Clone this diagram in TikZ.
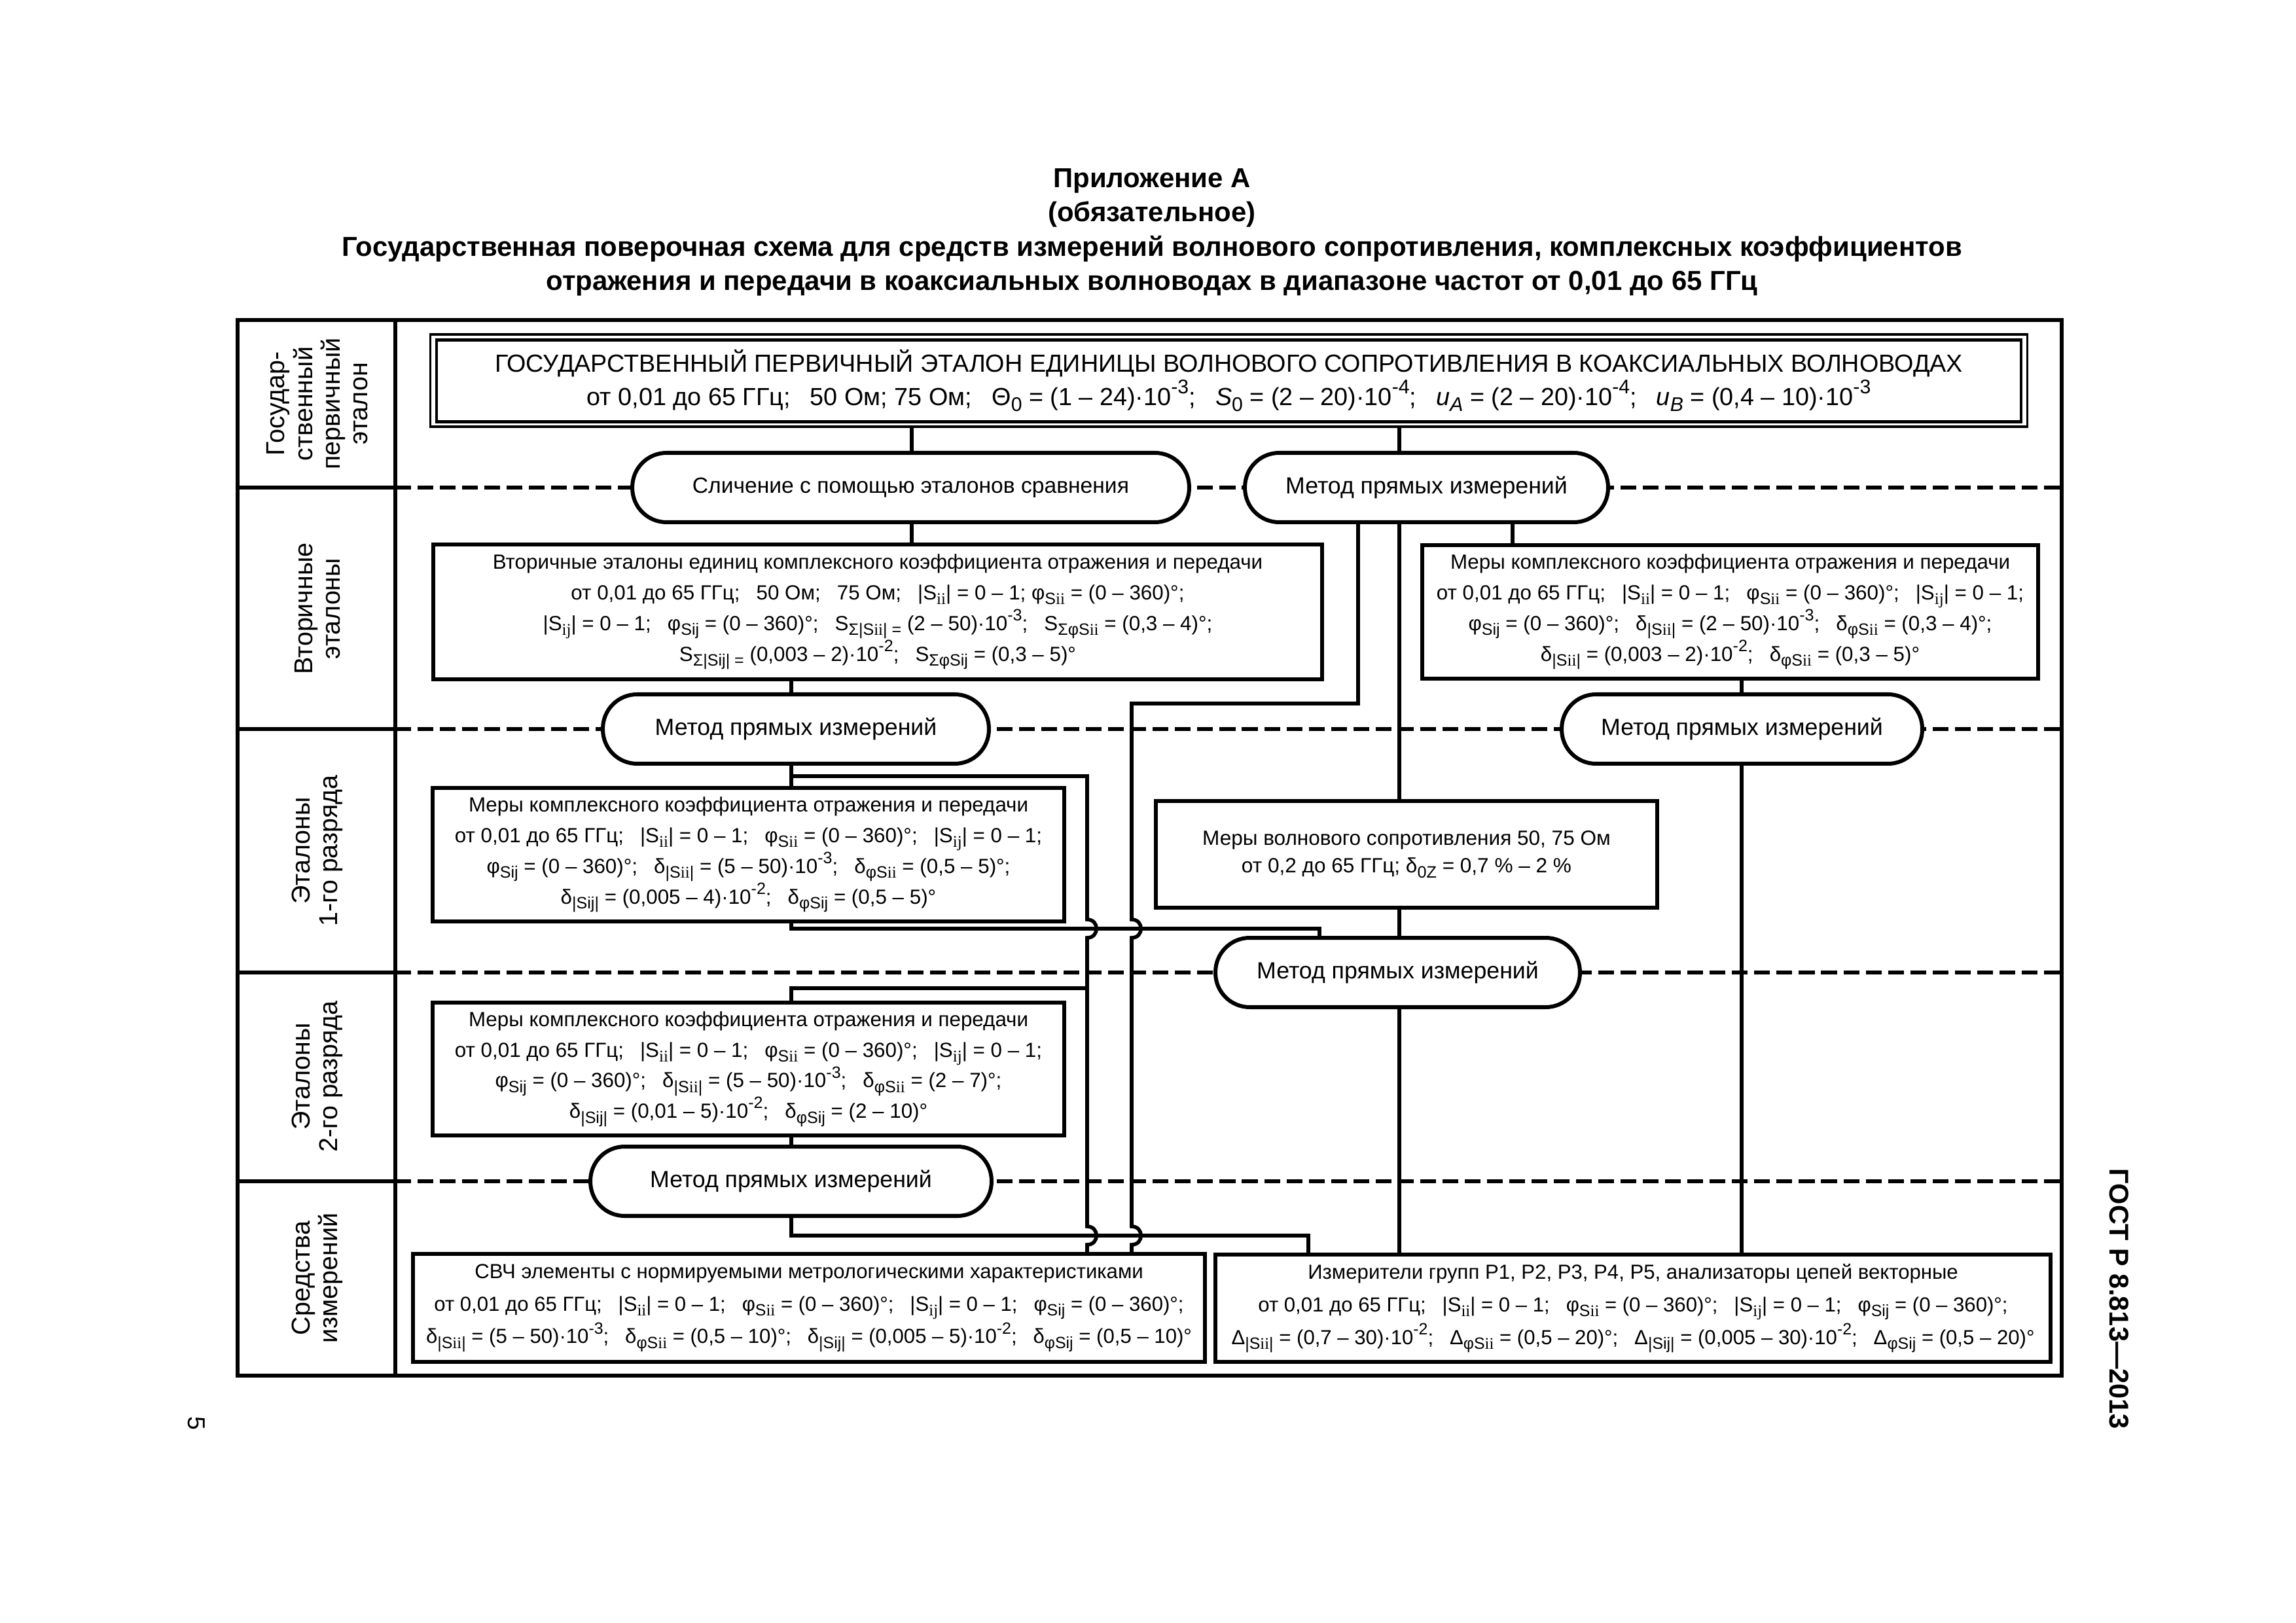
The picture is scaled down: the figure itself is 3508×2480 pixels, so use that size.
\documentclass[tikz,border=0pt]{standalone}
\usepackage{fontspec}
\usepackage{graphicx}
\setmainfont{Liberation Sans}
\newfontfamily\serf{Liberation Serif}
\newdimen\pxu \pxu=0.24086pt
\newcommand{\spc}{\hspace{0.8em}}
\newcommand{\lsub}[1]{\raisebox{-0.45ex}{\scalebox{0.8}{#1}}}
\newcommand{\lsup}[1]{\raisebox{0.9ex}{\scalebox{0.8}{#1}}}
\newcommand{\tenm}[1]{·10\lsup{-#1}}
\newcommand{\Sii}{S\lsub{\serf ii}}
\newcommand{\Sij}{S\lsub{\serf ij}}
\newcommand{\pSii}{φ\lsub{S{\serf ii}}}
\newcommand{\pSij}{φ\lsub{Sij}}
\newcommand{\dSii}{δ\lsub{|S{\serf ii}|}}
\newcommand{\dSij}{δ\lsub{|Sij|}}
\newcommand{\dpSii}{δ\lsub{φS{\serf ii}}}
\newcommand{\dpSij}{δ\lsub{φSij}}
\newcommand{\DSii}{Δ\lsub{|S{\serf ii}|}}
\newcommand{\DSij}{Δ\lsub{|Sij|}}
\newcommand{\DpSii}{Δ\lsub{φS{\serf ii}}}
\newcommand{\DpSij}{Δ\lsub{φSij}}
\tikzset{
  frame/.style={line width=1.6pt},
  rowsep/.style={line width=1.4pt, dash pattern=on 5.8pt off 2.4pt},
  box/.style={draw, line width=1.45pt, fill=white, align=center, inner sep=0pt,
    font=\fontsize{7.55}{11.3}\selectfont},
  stad/.style={draw, line width=1.45pt, fill=white, align=center, inner sep=0pt,
    rounded corners=12.6pt, minimum height=106*\pxu,
    font=\fontsize{8.6}{10}\selectfont},
  conn/.style={line width=1.35pt},
  rowlab/.style={rotate=90, align=center, font=\fontsize{9.5}{10.2}\selectfont}
}
\begin{document}
\begin{tikzpicture}[x=0.0846636mm, y=-0.0846636mm]
\useasboundingbox (0,0) rectangle (3508,2480);
% title
\node[align=center, font=\fontsize{10.1}{12.6}\selectfont\bfseries] (title) at (1760,355)
  {Приложение А\\(обязательное)\\Государственная поверочная схема для средств измерений волнового сопротивления, комплексных коэффициентов\\отражения и передачи в коаксиальных волноводах в диапазоне частот от 0,01 до 65 ГГц};
\node[rotate=-90, font=\fontsize{10}{12}\selectfont\bfseries] (gost) at (3238,1985) {ГОСТ Р 8.813—2013};
\node[rotate=-90, font=\fontsize{9}{11}\selectfont] (pnum) at (300,2175) {5};
% frame
\draw[frame] (363,489) rectangle (3150,2102);
\draw[frame] (604,489) -- (604,2102);
\foreach \yy in {745,1114,1486,1805} {
  \draw[frame] (363,\yy) -- (604,\yy);
  \draw[rowsep] (604,\yy) -- (3150,\yy);
}
% row labels
\node[rowlab] (l1) at (485,617) {Государ-\\ственный\\первичный\\эталон};
\node[rowlab] (l2) at (485,930) {Вторичные\\эталоны};
\node[rowlab] (l3) at (485,1300) {Эталоны\\1-го разряда};
\node[rowlab] (l4) at (485,1645) {Эталоны\\2-го разряда};
\node[rowlab] (l5) at (485,1953) {Средства\\измерений};
% main box
\node[draw, line width=0.75pt, fill=white, align=center, inner sep=0pt,
  minimum width=2441*\pxu, minimum height=141*\pxu,
  font=\fontsize{9.1}{10.6}\selectfont] (main) at (1877.5,581.5)
  {ГОСУДАРСТВЕННЫЙ ПЕРВИЧНЫЙ ЭТАЛОН ЕДИНИЦЫ ВОЛНОВОГО СОПРОТИВЛЕНИЯ В КОАКСИАЛЬНЫХ ВОЛНОВОДАХ\\
   от 0,01 до 65 ГГц;\spc 50 Ом; 75 Ом;\spc Θ\lsub{0} = (1 – 24)\tenm{3};\spc \textit{S}\lsub{0} = (2 – 20)\tenm{4};\spc \textit{u}\lsub{\textit{A}} = (2 – 20)\tenm{4};\spc \textit{u}\lsub{\textit{B}} = (0,4 – 10)\tenm{3}};
\draw[line width=1pt] ([shift={(11,10)}]main.north west) rectangle ([shift={(-11,-9)}]main.south east);
% stadiums
\node[stad, minimum width=851*\pxu, font=\fontsize{8.1}{10}\selectfont] (st1) at (1391.5,745) {Сличение с помощью эталонов сравнения};
\node[stad, minimum width=555*\pxu] (st2) at (2179.5,745) {Метод прямых измерений};
\node[stad, minimum width=590*\pxu] (st3l) at (1216,1114) {Метод прямых измерений};
\node[stad, minimum width=551*\pxu] (st3r) at (2661.5,1114) {Метод прямых измерений};
\node[stad, minimum width=557*\pxu] (st4) at (2135.5,1486) {Метод прямых измерений};
\node[stad, minimum width=613*\pxu] (st5) at (1208.5,1805) {Метод прямых измерений};
% boxes
\node[box, minimum width=1358*\pxu, minimum height=206*\pxu] (sec) at (1341,935)
 {Вторичные эталоны единиц комплексного коэффициента отражения и передачи\\
  от 0,01 до 65 ГГц;\spc 50 Ом;\spc 75 Ом;\spc |\Sii| = 0 – 1; \pSii{} = (0 – 360)°;\\
  |\Sij| = 0 – 1;\spc \pSij{} = (0 – 360)°;\spc S\lsub{Σ|S{\serf ii}| =} (2 – 50)\tenm{3};\spc S\lsub{ΣφS{\serf ii}} = (0,3 – 4)°;\\
  S\lsub{Σ|Sij| =} (0,003 – 2)\tenm{2};\spc S\lsub{ΣφSij} = (0,3 – 5)°};
\node[box, minimum width=941*\pxu, minimum height=204*\pxu] (rmer) at (2643.5,935)
 {Меры комплексного коэффициента отражения и передачи\\
  от 0,01 до 65 ГГц;\spc |\Sii| = 0 – 1;\spc \pSii{} = (0 – 360)°;\spc |\Sij| = 0 – 1;\\
  \pSij{} = (0 – 360)°;\spc \dSii{} = (2 – 50)\tenm{3};\spc \dpSii{} = (0,3 – 4)°;\\
  \dSii{} = (0,003 – 2)\tenm{2};\spc \dpSii{} = (0,3 – 5)°};
\node[box, minimum width=965*\pxu, minimum height=204*\pxu] (r1) at (1143.5,1306)
 {Меры комплексного коэффициента отражения и передачи\\
  от 0,01 до 65 ГГц;\spc |\Sii| = 0 – 1;\spc \pSii{} = (0 – 360)°;\spc |\Sij| = 0 – 1;\\
  \pSij{} = (0 – 360)°;\spc \dSii{} = (5 – 50)\tenm{3};\spc \dpSii{} = (0,5 – 5)°;\\
  \dSij{} = (0,005 – 4)\tenm{2};\spc \dpSij{} = (0,5 – 5)°};
\node[box, minimum width=766*\pxu, minimum height=163*\pxu, font=\fontsize{7.6}{10.2}\selectfont] (mv) at (2149,1305.5)
 {Меры волнового сопротивления 50, 75 Ом\\
  от 0,2 до 65 ГГц; δ\lsub{0Z} = 0,7 \% – 2 \%};
\node[box, minimum width=965*\pxu, minimum height=203*\pxu] (r2) at (1143.5,1633.5)
 {Меры комплексного коэффициента отражения и передачи\\
  от 0,01 до 65 ГГц;\spc |\Sii| = 0 – 1;\spc \pSii{} = (0 – 360)°;\spc |\Sij| = 0 – 1;\\
  \pSij{} = (0 – 360)°;\spc \dSii{} = (5 – 50)\tenm{3};\spc \dpSii{} = (2 – 7)°;\\
  \dSij{} = (0,01 – 5)\tenm{2};\spc \dpSij{} = (2 – 10)°};
\node[box, minimum width=1210*\pxu, minimum height=165*\pxu, font=\fontsize{7.5}{12}\selectfont] (svch) at (1236,1998.5)
 {СВЧ элементы с нормируемыми метрологическими характеристиками\\
  от 0,01 до 65 ГГц;\spc |\Sii| = 0 – 1;\spc \pSii{} = (0 – 360)°;\spc |\Sij| = 0 – 1;\spc \pSij{} = (0 – 360)°;\\
  \dSii{} = (5 – 50)\tenm{3};\spc \dpSii{} = (0,5 – 10)°;\spc \dSij{} = (0,005 – 5)\tenm{2};\spc \dpSij{} = (0,5 – 10)°};
\node[box, minimum width=1276*\pxu, minimum height=164*\pxu, font=\fontsize{7.5}{12}\selectfont] (izm) at (2495,1999)
 {Измерители групп Р1, Р2, Р3, Р4, Р5, анализаторы цепей векторные\\
  от 0,01 до 65 ГГц;\spc |\Sii| = 0 – 1;\spc \pSii{} = (0 – 360)°;\spc |\Sij| = 0 – 1;\spc \pSij{} = (0 – 360)°;\\
  \DSii{} = (0,7 – 30)\tenm{2};\spc \DpSii{} = (0,5 – 20)°;\spc \DSij{} = (0,005 – 30)\tenm{2};\spc \DpSij{} = (0,5 – 20)°};
% x positions of connectors
\coordinate (xA) at (1209,0);
\coordinate (xB) at (1393,0);
\coordinate (xC) at (1661,0);
\coordinate (xD) at (1729,0);
\coordinate (xE) at (2016,0);
\coordinate (xF) at (2075,0);
\coordinate (xG) at (2138,0);
\coordinate (xH) at (2311,0);
\coordinate (xI) at (2661,0);
\coordinate (xJ) at (1999,0);
\coordinate (jA) at (1209,1186);
\coordinate (jB) at (1661,1510);
% connectors
\draw[conn] (main.south -| xB) -- (st1.north -| xB);
\draw[conn] (main.south -| xG) -- (st2.north -| xG);
\draw[conn] (st1.south -| xB) -- (sec.north -| xB);
\draw[conn] (st2.south -| xH) -- (rmer.north -| xH);
\draw[conn] (sec.south -| xA) -- (st3l.north -| xA);
\draw[conn] (rmer.south -| xI) -- (st3r.north -| xI);
\draw[conn] (st3l.south -| xA) -- (r1.north -| xA);
\draw[conn] (jA) -- (jA -| xC) -- (1661,1405) .. controls (1680,1405) and (1680,1433) .. (1661,1433)
  -- (1661,1874) .. controls (1680,1874) and (1680,1902) .. (1661,1902) -- (svch.north -| xC);
\draw[conn] (jB) -- (jB -| xA) -- (r2.north -| xA);
\draw[conn] (st2.south -| xF) -- (2075,1075) -- (1729,1075) -- (1729,1405)
  .. controls (1748,1405) and (1748,1433) .. (1729,1433) -- (1729,1874)
  .. controls (1748,1874) and (1748,1902) .. (1729,1902) -- (svch.north -| xD);
\draw[conn] (r1.south -| xA) -- (1209,1419) -- (2016,1419) -- (st4.north -| xE);
\draw[conn] (st2.south -| xG) -- (mv.north -| xG);
\draw[conn] (mv.south -| xG) -- (st4.north -| xG);
\draw[conn] (st4.south -| xG) -- (izm.north -| xG);
\draw[conn] (st3r.south -| xI) -- (izm.north -| xI);
\draw[conn] (r2.south -| xA) -- (st5.north -| xA);
\draw[conn] (st5.south -| xA) -- (1209,1888) -- (1999,1888) -- (izm.north -| xJ);
\end{tikzpicture}
\end{document}
